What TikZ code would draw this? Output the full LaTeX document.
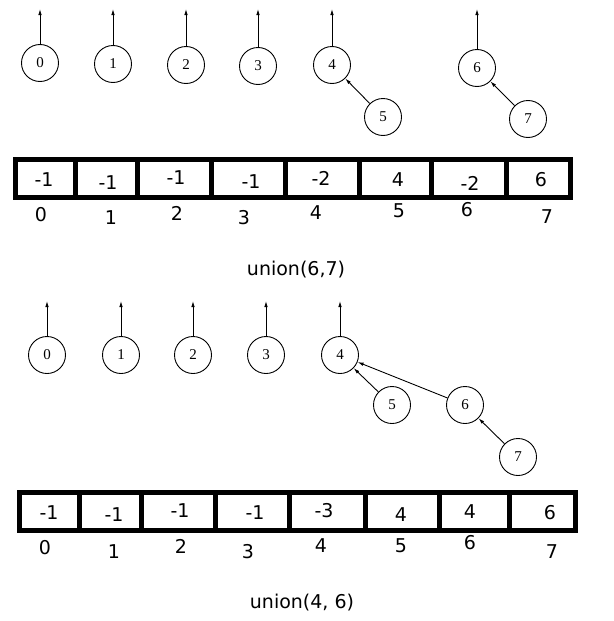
\documentclass[tikz,border=0pt]{standalone}
\usepackage{fontspec}
\setmainfont{Liberation Serif}
\newfontfamily\arrfont{DejaVu Sans}
\usetikzlibrary{arrows.meta}
\tikzset{
  elem/.style={draw,circle,line width=0.9pt,minimum size=37pt,inner sep=0pt,font=\fontsize{15}{15}\selectfont},
  ptr/.style={-{Latex[length=6pt,width=3.5pt]},line width=0.9pt},
  cellval/.style={font=\arrfont\fontsize{19}{19}\selectfont},
  arrline/.style={line width=5pt},
}
\begin{document}
\begin{tikzpicture}[x=1pt,y=-1pt]
\useasboundingbox (0,0) rectangle (613,621);

\node[elem] (a0) at (40,63) {0};
\node[elem] (a1) at (113,64) {1};
\node[elem] (a2) at (186,65) {2};
\node[elem] (a3) at (258,66) {3};
\node[elem] (a4) at (332,65) {4};
\node[elem] (a5) at (383,117) {5};
\node[elem] (a6) at (477,68) {6};
\node[elem] (a7) at (528,119) {7};
\foreach \n/\x in {0/40,1/113,2/186,3/258,4/332,6/477}{
  \coordinate (ta\n) at (\x,9);
  \draw[ptr] (a\n) -- (ta\n);
}
\draw[ptr] (a5) -- (a4);
\draw[ptr] (a7) -- (a6);

\draw[arrline] (15,159) rectangle (570,197.5);
\foreach \x in {75,137.5,211,285,359,431,506}
  \draw[arrline] (\x,159) -- (\x,197.5);
\foreach \x/\y/\v [count=\i from 0] in {44/180/-1,108/183/-1,176/178/-1,251/182/-1,321/178/-2,398/180/4,470/183/-2,541/180/6}
  \node[cellval] (v\i) at (\x,\y) {\v};
\foreach \x/\y [count=\i from 0] in {41/215,111/218,177/213,244/218,316/213,399/211,467/210,547/217}
  \node[cellval] (i\i) at (\x,\y) {\i};
\node[cellval] (op1) at (296,270) {union(6,7)};

\node[elem] (b0) at (47,355) {0};
\node[elem] (b1) at (121,355) {1};
\node[elem] (b2) at (193,355) {2};
\node[elem] (b3) at (266,355) {3};
\node[elem] (b4) at (340,355) {4};
\node[elem] (b5) at (392,405) {5};
\node[elem] (b6) at (465,405) {6};
\node[elem] (b7) at (518,457) {7};
\foreach \n/\x in {0/47,1/121,2/193,3/266,4/340}{
  \coordinate (tb\n) at (\x,301);
  \draw[ptr] (b\n) -- (tb\n);
}
\draw[ptr] (b5) -- (b4);
\draw[ptr] (b6) -- (b4);
\draw[ptr] (b7) -- (b6);

\draw[arrline] (19,492.5) rectangle (575,530);
\foreach \x in {79.5,141.5,215,289,365,439,509}
  \draw[arrline] (\x,492.5) -- (\x,530);
\foreach \x/\y/\v [count=\i from 0] in {49/513/-1,114/515/-1,180/511/-1,255/513/-1,324/511/-3,401/515/4,470/512/4,550/513/6}
  \node[cellval] (w\i) at (\x,\y) {\v};
\foreach \x/\y [count=\i from 0] in {45/548,114/552,181/546,248/552,321/546,401/546,470/543,552/552}
  \node[cellval] (j\i) at (\x,\y) {\i};
\node[cellval] (op2) at (302,603) {union(4, 6)};
\end{tikzpicture}
\end{document}
